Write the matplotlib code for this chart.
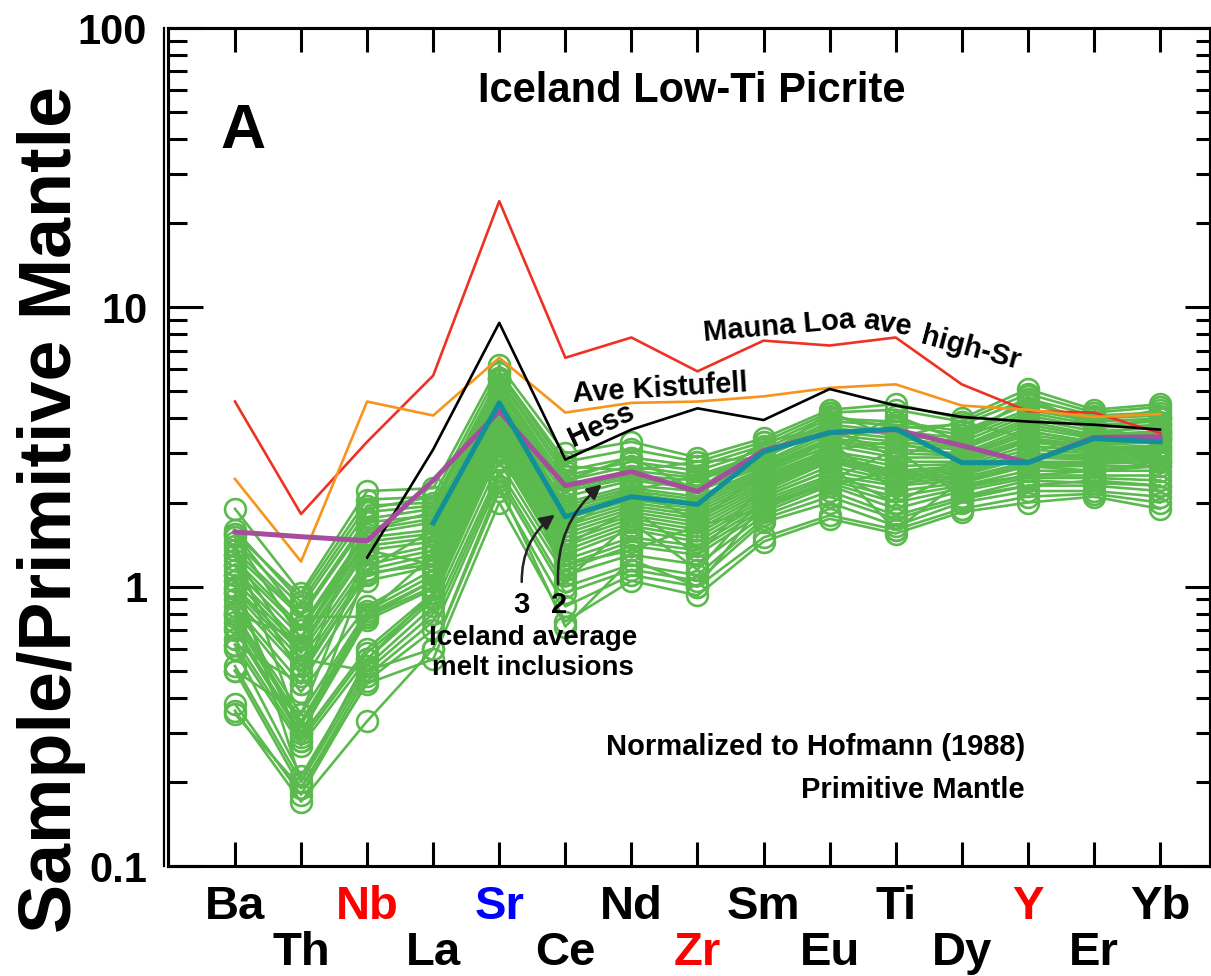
import numpy as np
import matplotlib
matplotlib.use("Agg")
import matplotlib.pyplot as plt
from matplotlib.ticker import NullFormatter

plt.rcParams['font.family'] = ['Liberation Sans', 'DejaVu Sans']
plt.rcParams['font.weight'] = 'bold'

nan = np.nan

# element order on the x axis
elements = ['Ba', 'Th', 'Nb', 'La', 'Sr', 'Ce', 'Nd', 'Zr', 'Sm', 'Eu', 'Ti', 'Dy', 'Y', 'Er', 'Yb']
label_colors = {'Nb': '#FF0000', 'Sr': '#0000FF', 'Zr': '#FF0000', 'Y': '#FF0000'}

# reference compositions (normalized to primitive mantle)
mauna_loa = [4.6, 1.82, 3.3, 5.7, 24.0, 6.6, 7.8, 5.9, 7.6, 7.3, 7.8, 5.3, 4.25, 4.2, 3.55]
kistufell = [2.43, 1.23, 4.6, 4.1, 6.6, 4.2, 4.55, 4.6, 4.8, 5.15, 5.3, 4.45, 4.3, 4.05, 4.15]
hess = [nan, nan, 1.27, 3.1, 8.8, 2.85, 3.65, 4.35, 3.95, 5.1, 4.45, 4.05, 3.9, 3.8, 3.65]
melt_incl_3 = [1.57, 1.51, 1.46, 2.4, 4.25, 2.3, 2.58, 2.19, 3.07, 3.56, 3.65, 3.2, 2.78, 3.42, 3.44]
melt_incl_2 = [nan, nan, nan, 1.69, 4.55, 1.78, 2.10, 1.97, 3.04, 3.56, 3.67, 2.78, 2.78, 3.39, 3.30]

# Iceland low-Ti picrite samples
picrites = [
    [1.90, 0.95, 2.20, 2.25, 6.2, 3.0, 3.3, 2.9, 3.4, 4.3, 4.5, 4.0, 5.1, 4.3, 4.5],
    [1.55, 0.92, 2.05, 2.10, 5.9, 2.8, 3.1, 2.8, 3.3, 4.2, 4.3, 3.9, 4.9, 4.2, 4.4],
    [1.60, 0.88, 1.95, 2.00, 5.6, 2.6, 2.9, 2.7, 3.2, 4.1, 3.7, 3.8, 4.7, 4.1, 4.2],
    [1.45, 0.85, 1.85, 1.95, 5.5, 2.5, 2.8, 2.6, 3.1, 4.0, 3.9, 3.6, 4.5, 4.0, 4.1],
    [1.35, 0.80, 1.75, 1.90, 5.3, 2.4, 2.7, 2.5, 3.0, 3.9, 3.8, 3.5, 4.3, 3.9, 4.0],
    [1.30, 0.78, 1.70, 1.80, 5.2, 2.3, 2.6, 2.45, 2.95, 3.8, 3.6, 3.4, 4.2, 3.8, 3.9],
    [1.25, 0.72, 1.60, 1.75, 5.0, 2.25, 2.5, 2.4, 2.9, 3.7, 3.5, 3.3, 4.1, 3.7, 3.8],
    [1.20, 0.70, 1.55, 1.70, 4.8, 2.2, 2.45, 2.3, 2.8, 3.6, 3.4, 3.2, 4.0, 3.6, 3.7],
    [1.15, 0.66, 1.50, 1.60, 4.7, 2.1, 2.4, 2.25, 2.75, 3.5, 3.3, 3.15, 3.9, 3.5, 3.6],
    [1.50, 0.65, 1.45, 1.55, 4.6, 2.0, 2.3, 2.2, 2.7, 3.4, 3.2, 3.1, 3.8, 3.45, 3.55],
    [1.10, 0.62, 1.40, 1.50, 4.5, 1.95, 2.25, 2.1, 2.65, 3.35, 3.1, 3.0, 3.7, 3.4, 3.5],
    [1.05, 0.60, 1.35, 1.45, 4.4, 1.9, 2.2, 2.05, 2.6, 3.3, 3.0, 2.95, 3.6, 3.3, 3.4],
    [1.00, 0.58, 1.25, 1.40, 4.3, 1.85, 2.15, 2.0, 2.55, 3.2, 2.9, 2.9, 3.5, 3.25, 3.35],
    [0.98, 0.55, 1.20, 1.35, 4.2, 1.8, 2.1, 1.95, 2.5, 3.1, 3.3, 2.85, 3.4, 3.2, 3.3],
    [0.95, 0.52, 1.15, 1.30, 4.1, 1.75, 2.05, 1.9, 2.45, 3.05, 2.8, 2.8, 3.35, 3.15, 3.2],
    [0.90, 0.50, 1.10, 1.25, 4.0, 1.7, 2.0, 1.85, 2.4, 3.0, 2.7, 2.75, 3.3, 3.1, 3.15],
    [1.20, 0.48, 1.12, 1.20, 3.9, 1.65, 1.95, 1.8, 2.35, 2.95, 2.6, 2.7, 3.2, 3.05, 3.1],
    [0.85, 0.45, 1.05, 1.18, 3.8, 1.6, 1.9, 1.75, 2.3, 2.9, 2.55, 2.65, 3.1, 3.0, 3.05],
    [0.82, 0.42, 0.85, 1.15, 3.7, 1.55, 1.85, 1.7, 2.25, 2.85, 2.5, 2.6, 3.0, 2.95, 3.0],
    [0.80, 0.35, 0.82, 1.10, 3.6, 1.5, 1.8, 1.65, 2.2, 2.8, 2.45, 2.55, 2.95, 2.9, 2.95],
    [0.78, 0.33, 0.80, 1.05, 3.5, 1.45, 1.75, 1.6, 2.15, 2.7, 2.4, 2.5, 2.9, 2.85, 2.9],
    [0.75, 0.32, 0.78, 1.00, 3.4, 1.4, 1.7, 1.55, 2.1, 2.6, 2.35, 2.45, 2.8, 2.8, 2.85],
    [0.72, 0.30, 0.76, 0.98, 3.3, 1.35, 1.65, 1.5, 2.05, 2.5, 2.3, 2.4, 2.75, 2.75, 2.8],
    [0.70, 0.29, 0.60, 0.95, 3.2, 1.3, 1.6, 1.45, 2.0, 2.45, 2.2, 2.35, 2.7, 2.7, 2.7],
    [0.65, 0.28, 0.58, 0.92, 3.1, 1.25, 1.5, 1.4, 1.95, 2.4, 2.1, 2.3, 2.6, 2.6, 2.6],
    [0.62, 0.27, 0.55, 0.90, 3.0, 1.2, 1.45, 1.35, 1.9, 2.35, 2.0, 2.25, 2.5, 2.5, 2.5],
    [0.60, 0.21, 0.52, 0.85, 2.8, 1.15, 1.4, 1.3, 1.85, 2.3, 1.9, 2.2, 2.45, 2.45, 2.4],
    [0.52, 0.20, 0.50, 0.80, 2.6, 1.1, 1.3, 1.2, 1.8, 2.2, 1.8, 2.1, 2.4, 2.35, 2.3],
    [0.50, 0.19, 0.48, 0.75, 2.5, 1.0, 1.2, 1.1, 1.75, 2.1, 1.75, 2.05, 2.3, 2.3, 2.2],
    [0.38, 0.18, 0.46, 0.70, 2.4, 0.95, 1.15, 1.05, 1.7, 2.0, 1.65, 2.0, 2.2, 2.2, 2.1],
    [0.36, 0.17, 0.33, 0.60, 2.2, 0.85, 1.1, 1.0, 1.5, 1.8, 1.6, 1.9, 2.1, 2.15, 2.0],
    [0.35, 0.19, 0.45, 0.55, 2.0, 0.75, 1.05, 0.93, 1.45, 1.75, 1.55, 1.85, 2.0, 2.1, 1.9],
    [1.40, 0.30, 0.80, 1.30, 5.6, 1.6, 2.3, 1.7, 2.6, 3.3, 2.2, 2.9, 3.6, 3.3, 3.4],
    [0.80, 0.65, 1.60, 1.85, 3.4, 2.4, 2.9, 2.2, 3.3, 3.7, 2.9, 3.5, 4.6, 3.9, 4.3],
    [1.10, 0.20, 0.55, 0.95, 4.9, 1.4, 1.9, 1.3, 2.3, 2.8, 1.6, 2.4, 2.7, 2.6, 2.8],
    [0.62, 0.45, 1.90, 2.10, 3.0, 1.2, 1.35, 1.65, 1.9, 2.4, 3.1, 2.1, 2.3, 2.4, 2.3],
    [1.30, 0.55, 0.50, 0.60, 2.3, 0.72, 1.25, 1.0, 2.0, 2.3, 2.6, 2.3, 2.5, 2.6, 2.7],
    [0.95, 0.28, 1.15, 1.60, 5.8, 2.7, 2.6, 2.8, 2.9, 4.2, 3.4, 3.9, 3.4, 3.2, 3.6],
    [1.55, 0.78, 0.78, 1.05, 4.0, 1.05, 1.7, 1.15, 2.1, 2.6, 2.0, 2.6, 3.0, 3.5, 3.8],
    [0.50, 0.35, 1.35, 1.20, 3.6, 1.9, 2.2, 2.5, 2.75, 3.1, 4.1, 3.3, 4.8, 3.7, 4.0],
]

green = '#5BBA4E'
x = np.arange(len(elements))

fig = plt.figure(figsize=(12.11, 9.76), dpi=100)
ax = fig.add_axes([0.1387, 0.1127, 0.8605, 0.8586])

# samples
for row in picrites:
    ax.plot(x, row, color=green, lw=1.9, marker='o', ms=15, mfc='none',
            mec=green, mew=1.9, zorder=2)

# reference lines
ax.plot(x, mauna_loa, color='#EE3124', lw=1.9, zorder=3)
ax.plot(x, kistufell, color='#F7941D', lw=1.9, zorder=3)
ax.plot(x, hess, color='black', lw=1.9, zorder=3)
ax.plot(x, melt_incl_3, color='#A64D9E', lw=3.6, zorder=4)
ax.plot(x, melt_incl_2, color='#11909A', lw=3.6, zorder=5)

ax.set_yscale('log')
ax.set_ylim(0.1, 100)
ax.set_xlim(-1.014, 14.757)

# axes styling
for sp in ax.spines.values():
    sp.set_linewidth(2.2)
ax.plot([-0.004, -0.004], [0, 1], transform=ax.transAxes, color='black',
        lw=1.6, clip_on=False)

ax.set_yticks([0.1, 1, 10, 100])
ax.set_yticklabels(['0.1', '1', '10', '100'])
ax.yaxis.set_minor_formatter(NullFormatter())
ax.tick_params(axis='y', which='major', direction='in', length=25, width=2.2,
               labelsize=30, pad=15)
ax.tick_params(axis='y', which='minor', direction='in', length=14, width=2.2)

ax.set_xticks(x[::2])
ax.set_xticklabels(elements[::2])
ax.set_xticks(x[1::2], minor=True)
ax.set_xticklabels(elements[1::2], minor=True)
ax.tick_params(axis='x', which='both', direction='in', length=17, width=2.2,
               top=True, labelsize=34)
ax.tick_params(axis='x', which='major', pad=14)
ax.tick_params(axis='x', which='minor', pad=47)
for lbl in ax.get_xticklabels() + ax.get_xticklabels(minor=True):
    lbl.set_color(label_colors.get(lbl.get_text(), 'black'))
    lbl.set_fontweight('bold')
for lbl in ax.get_yticklabels():
    lbl.set_fontweight('bold')

# right-hand ticks
axr = ax.twinx()
axr.set_yscale('log')
axr.set_ylim(0.1, 100)
axr.yaxis.set_major_formatter(NullFormatter())
axr.yaxis.set_minor_formatter(NullFormatter())
axr.tick_params(axis='y', which='major', direction='in', length=18, width=2.2)
axr.tick_params(axis='y', which='minor', direction='in', length=10, width=2.2)
for sp in axr.spines.values():
    sp.set_linewidth(2.2)

ax.set_ylabel('Sample/Primitive Mantle', fontsize=53, fontweight='bold')
ax.yaxis.set_label_coords(-0.079, 0.425)

# texts
ax.text(0.503, 0.912, 'Iceland Low-Ti Picrite', transform=ax.transAxes,
        ha='center', va='baseline', fontsize=30, fontweight='bold')
ax.text(0.050, 0.857, 'A', transform=ax.transAxes, ha='left', va='baseline',
        fontsize=45, fontweight='bold')
ax.text(0.8225, 0.1325, 'Normalized to Hofmann (1988)', transform=ax.transAxes,
        ha='right', va='baseline', fontsize=21, fontweight='bold')
ax.text(0.8225, 0.0811, 'Primitive Mantle', transform=ax.transAxes,
        ha='right', va='baseline', fontsize=21, fontweight='bold')
ax.text(0.350, 0.2635, 'Iceland average', transform=ax.transAxes,
        ha='center', va='baseline', fontsize=20, fontweight='bold')
ax.text(0.350, 0.2281, 'melt inclusions', transform=ax.transAxes,
        ha='center', va='baseline', fontsize=20, fontweight='bold')
ax.text(0.3388, 0.3019, '3', transform=ax.transAxes, ha='center',
        va='baseline', fontsize=21, fontweight='bold')
ax.text(0.3752, 0.3019, '2', transform=ax.transAxes, ha='center',
        va='baseline', fontsize=21, fontweight='bold')

curve_labels = [
    ('Mauna Loa', 0.5874, 0.6348, 5),
    ('ave', 0.689, 0.637, -9),
    ('high-Sr', 0.7686, 0.6086, -15),
    ('Ave Kistufell', 0.4731, 0.5597, 3.5),
    ('Hess', 0.4194, 0.5179, 25),
]
for txt, tx, ty, rot in curve_labels:
    ax.text(tx, ty, txt, transform=ax.transAxes, ha='center', va='baseline',
            rotation=rot, rotation_mode='anchor', fontsize=21, fontweight='bold')

# arrows pointing at the melt inclusion lines
ax.annotate('', xy=(4.84, 1.81), xytext=(4.34, 1.04),
            arrowprops=dict(arrowstyle='-|>', color='#222222', lw=1.8,
                            mutation_scale=22, shrinkA=0, shrinkB=0,
                            connectionstyle='arc3,rad=-0.25'), zorder=6)
ax.annotate('', xy=(5.55, 2.32), xytext=(4.89, 1.02),
            arrowprops=dict(arrowstyle='-|>', color='#222222', lw=1.8,
                            mutation_scale=22, shrinkA=0, shrinkB=0,
                            connectionstyle='arc3,rad=-0.25'), zorder=6)

fig.savefig('out.png', dpi=100)
